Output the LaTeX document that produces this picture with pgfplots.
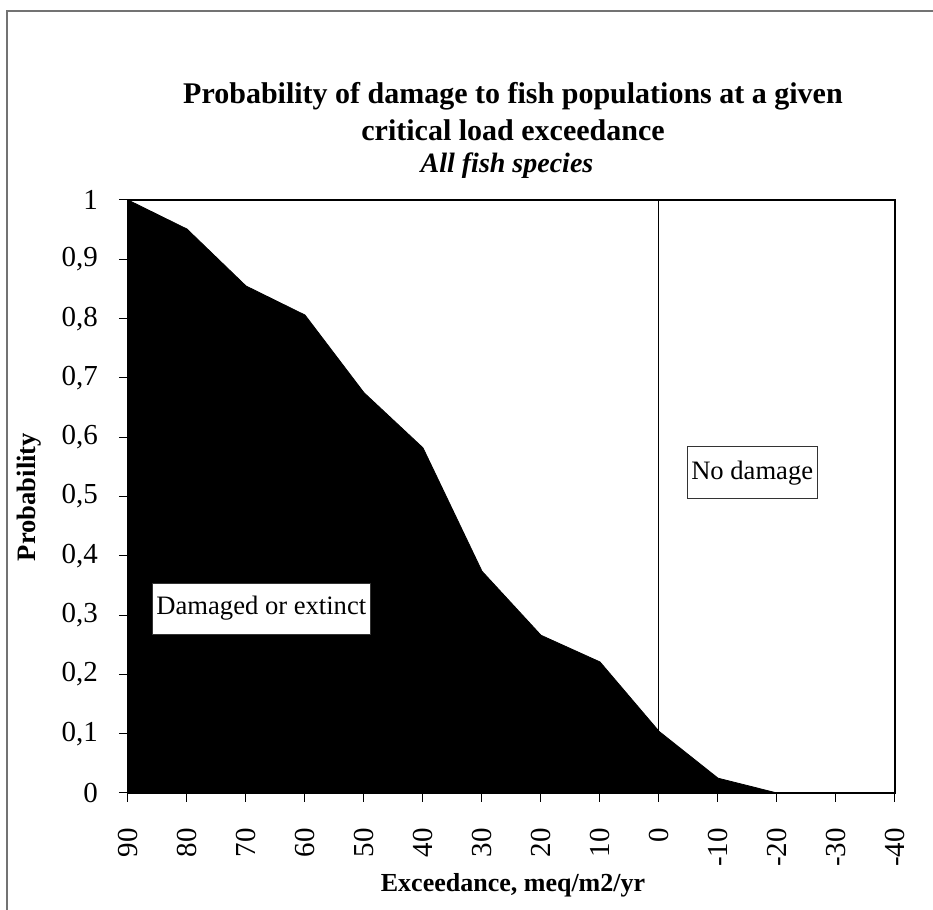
\documentclass[border=0pt]{standalone}
\usepackage{fontspec}
\setmainfont{Liberation Serif}
\usepackage{pgfplots}
\pgfplotsset{compat=1.18}
\newcommand\yl[1]{{\fontsize{14.5}{17}\selectfont #1\hspace*{7pt}}}
\newcommand\xl[1]{{\fontsize{14.5}{17}\selectfont #1\hspace*{9.5pt}}}
\begin{document}
\begin{tikzpicture}
\path[use as bounding box] (0pt,0pt) rectangle (466.5pt,455pt);
\draw[black!55, line width=0.6pt] (3.5pt,0pt) -- (3.5pt,449.5pt) -- (466.5pt,449.5pt);
\begin{axis}[
  at={(64pt,58.5pt)}, anchor=south west,
  scale only axis, width=383.5pt, height=296.5pt,
  xmin=-40, xmax=90, x dir=reverse, ymin=0, ymax=1,
  xtick={-40,-30,-20,-10,0,10,20,30,40,50,60,70,80,90},
  ytick={0,0.1,0.2,0.3,0.4,0.5,0.6,0.7,0.8,0.9,1},
  yticklabels={\yl{0},\yl{0,1},\yl{0,2},\yl{0,3},\yl{0,4},\yl{0,5},\yl{0,6},\yl{0,7},\yl{0,8},\yl{0,9},\yl{1}},
  xticklabels={\xl{-40},\xl{-30},\xl{-20},\xl{-10},\xl{0},\xl{10},\xl{20},\xl{30},\xl{40},\xl{50},\xl{60},\xl{70},\xl{80},\xl{90}},
  tick pos=left,
  tick align=outside, major tick length=4.5pt,
  axis line style={line width=0.6pt},
  tick style={black, line width=0.5pt},
  yticklabel style={anchor=east},
  xticklabel style={rotate=90, anchor=east},
]
\addplot[fill=black, draw=black] coordinates {
(90,1.0) (80,0.951) (70,0.855) (60,0.806) (50,0.675) (40,0.582) (30,0.374) (20,0.266) (10,0.221) (0,0.104) (-10,0.025) (-20,0) (-30,0) (-40,0)
} \closedcycle;
\addplot[black, line width=0.5pt] coordinates {(0,0) (0,1)};
\node[draw=black!80, line width=0.4pt, fill=white, inner xsep=2pt, minimum height=25.5pt, font=\fontsize{13.3}{16}\selectfont] at (axis cs:67.4,0.311) {Damaged or extinct};
\node[draw=black!80, line width=0.4pt, fill=white, inner xsep=2pt, minimum height=26pt, font=\fontsize{13.3}{16}\selectfont] at (axis cs:-15.8,0.540) {No damage};
\end{axis}
\node[font=\bfseries\fontsize{15}{17}\selectfont] at (256.5pt,407pt) {Probability of damage to fish populations at a given};
\node[font=\bfseries\fontsize{15}{17}\selectfont] at (256.5pt,390pt) {critical load exceedance};
\node[font=\bfseries\itshape\fontsize{14}{16}\selectfont] at (253.5pt,372pt) {All fish species};
\node[font=\bfseries\fontsize{13.3}{16}\selectfont, rotate=90] at (14.5pt,206.5pt) {Probability};
\node[font=\bfseries\fontsize{13}{16}\selectfont] at (256.5pt,12.5pt) {Exceedance, meq/m2/yr};
\end{tikzpicture}
\end{document}
